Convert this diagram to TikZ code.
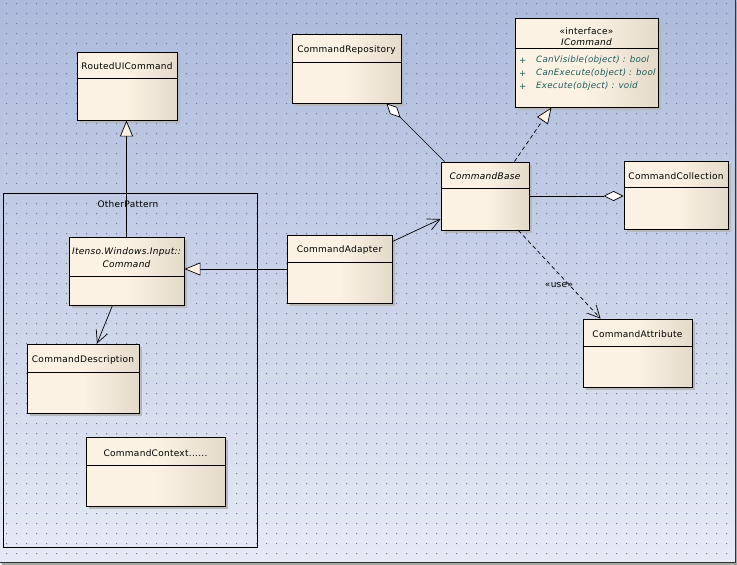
\documentclass[tikz,border=0pt]{standalone}
\usepackage{fontspec}
\newfontfamily\umlfont[LetterSpace=3]{DejaVu Sans}
\usetikzlibrary{arrows.meta,shadows,positioning}

\definecolor{bgtop}{HTML}{ADBADB}
\definecolor{bgbot}{HTML}{E6EAF5}
\definecolor{umlcream}{HTML}{FBF2E3}
\definecolor{umltan}{HTML}{E3DACA}
\definecolor{gridcol}{HTML}{6F7C9C}
\definecolor{optext}{HTML}{1E5A5A}

\tikzset{
  classbox/.style={draw, line width=0.9pt, inner sep=0pt,
    left color=umlcream, right color=umltan, middle color=umlcream,
    drop shadow={shadow xshift=3pt, shadow yshift=-3pt, fill=black!28, opacity=1}},
  classname/.style={font=\umlfont\fontsize{9}{13}\selectfont, align=center, inner sep=0pt},
  opname/.style={font=\umlfont\itshape\fontsize{8.7}{11}\selectfont, text=optext, anchor=west, inner sep=0pt},
  gen/.style={line width=0.7pt, -{Triangle[length=16pt, width=13pt, fill=umlcream]}},
  real/.style={gen, dash pattern=on 4pt off 3pt},
  aggr/.style={line width=0.7pt, -{Diamond[length=20pt, width=10pt, fill=white]}},
  assoc/.style={line width=0.7pt, -{Straight Barb[length=12pt, width=12pt]}},
  dep/.style={assoc, dash pattern=on 4pt off 3pt}
}

\begin{document}
\begin{tikzpicture}[x=1pt, y=-1pt]

% ── Background, grid and frame ─────────────────────────────
\shade[top color=bgtop, bottom color=bgbot] (0,0) rectangle (737,565);
\useasboundingbox (0,0) rectangle (737,565);
\fill[gridcol] foreach \i in {0,...,72} { foreach \j in {0,...,55} {
    ({6+10*\i},{3+10*\j}) rectangle +(1,1) } };
\draw[line width=1.5pt, black!35] (736.5,2) -- (736.5,564) -- (2,564);
\draw[line width=1pt, black!80] (735,0) -- (735,562) -- (0,562);

% ── Package ───────────────────────────────────────────────
\node[draw, line width=0.8pt, minimum width=254pt, minimum height=354pt] (pkg) at (130,370) {};
\node[classname] (pkg-t) at (128,204) {OtherPattern};

% ── Classes ───────────────────────────────────────────────
\node[classbox, minimum width=100pt, minimum height=68pt] (routed)  at (127,86)    {};
\node[classbox, minimum width=109pt, minimum height=69pt] (repo)    at (346.5,68.5) {};
\node[classbox, minimum width=143pt, minimum height=89pt] (icmd)    at (586.5,62.5) {};
\node[classbox, minimum width=88pt,  minimum height=68pt] (base)    at (485,196)   {};
\node[classbox, minimum width=104pt, minimum height=68pt] (coll)    at (676,195)   {};
\node[classbox, minimum width=105pt, minimum height=68pt] (adapter) at (339.5,269) {};
\node[classbox, minimum width=115pt, minimum height=68pt] (cmd)     at (126.5,271) {};
\node[classbox, minimum width=112pt, minimum height=69pt] (desc)    at (83,378.5)  {};
\node[classbox, minimum width=139pt, minimum height=69pt] (ctx)     at (155.5,471.5) {};
\node[classbox, minimum width=109pt, minimum height=68pt] (attr)    at (637.5,353) {};

% header dividers
\foreach \n/\dy in {routed/78, repo/62, icmd/48, base/188, coll/187,
    adapter/262, cmd/276, desc/372, ctx/465, attr/346} {
  \draw[line width=0.8pt] (\n.west |- 0,\dy) -- (\n.east |- 0,\dy);
}

% class names
\node[classname] (routed-t)  at (127,66)    {RoutedUICommand};
\node[classname] (repo-t)    at (346.5,50)  {CommandRepository};
\node[classname] (icmd-s)    at (586.5,31)  {«interface»};
\node[classname] (icmd-t)    at (586.5,42)  {\itshape ICommand};
\node[classname] (base-t)    at (485,176)   {\itshape CommandBase};
\node[classname] (coll-t)    at (676,176)   {CommandCollection};
\node[classname] (adapter-t) at (339.5,250) {CommandAdapter};
\node[classname] (cmd-t)     at (126.5,257.5) {\itshape Itenso.Windows.Input::\\\itshape Command};
\node[classname] (desc-t)    at (83,360)    {CommandDescription};
\node[classname] (ctx-t)     at (155.5,453) {CommandContext......};
\node[classname] (attr-t)    at (637.5,334) {CommandAttribute};

% operations of ICommand
\foreach \k/\y/\op in {1/60.5/{CanVisible(object) : bool},
    2/73.5/{CanExecute(object) : bool}, 3/86.5/{Execute(object) : void}} {
  \node[opname] (icmd-p\k) at (519,\y) {+};
  \node[opname] (icmd-m\k) at (536,\y) {\op};
}

% ── Connectors ────────────────────────────────────────────
\draw[gen]   (cmd.north) -- (cmd.north |- routed.south);
\draw[gen]   (adapter.west) -- (adapter.west -| cmd.east);
\draw[assoc] ([yshift=-7pt]adapter.north east) -- ([yshift=-23pt]base.west);
\draw[aggr]  ([xshift=4pt]base.north west) -- ([xshift=-15pt]repo.south east);
\draw[real]  ([xshift=-15pt]base.north east) -- ([xshift=-35pt]icmd.south);
\draw[aggr]  (base.east) -- (base.east -| coll.west);
\draw[dep]   ([xshift=-11pt]base.south east) -- ([xshift=18pt]attr.north west);
\node[classname] (use-t) at (559,285) {«use»};
\draw[assoc] ([xshift=-14pt]cmd.south) -- ([xshift=14pt]desc.north);

\end{tikzpicture}
\end{document}
